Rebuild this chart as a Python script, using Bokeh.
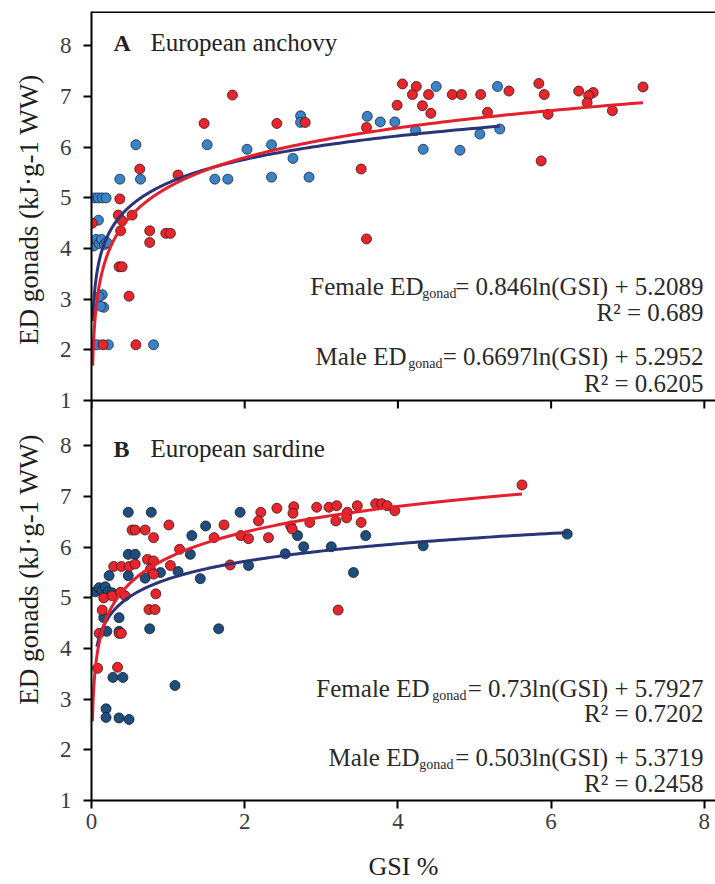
import numpy as np
from bokeh.plotting import figure
from bokeh.layouts import row
from bokeh.models import Label, Span, FixedTicker, Range1d, CustomJSTickFormatter
from bokeh.core.properties import value
from bokeh.embed import file_html
from bokeh.resources import INLINE

# ---------------- data ----------------
x_ticks = [0, 2, 4, 6, 8]
y_ticks = [1, 2, 3, 4, 5, 6, 7, 8]

# Panel A - European anchovy, females (red)
anch_f_gsi = [1.47, 0.63, 1.13, 0.37, 0.01, 0.35, 0.53, 0.40, 0.38, 0.76, 0.97, 1.03, 0.76,
              0.36, 0.40, 0.49, 0.15, 0.58, 1.84, 2.42, 2.79, 3.52, 3.59, 3.59, 3.99, 4.06,
              4.24, 4.19, 4.40, 4.32, 4.43, 4.71, 4.83, 5.08, 5.45, 5.84, 5.91, 6.36, 6.55,
              6.49, 6.47, 7.20, 5.17, 5.96, 6.80, 5.87]
anch_f_ed = [6.47, 5.57, 5.45, 4.98, 4.50, 4.66, 4.66, 4.55, 4.35, 4.35, 4.30, 4.30, 4.12,
             3.64, 3.64, 3.06, 2.10, 2.10, 7.03, 6.47, 6.49, 5.57, 4.19, 6.39, 6.83, 7.25,
             7.20, 7.04, 7.04, 6.82, 6.67, 7.04, 7.04, 7.04, 7.11, 7.26, 7.04, 7.11, 7.08,
             7.02, 6.88, 7.19, 6.69, 6.65, 6.72, 5.73]
# Panel A - males (blue)
anch_m_gsi = [0.58, 1.51, 2.03, 0.37, 0.64, 1.61, 1.78, 0.04, 0.09, 0.14, 0.19, 0.09,
              0.03, 0.06, 0.10, 0.13, 0.17, 0.20, 0.14, 0.10, 0.16, 0.12, 0.03, 0.08, 0.22,
              0.81, 2.73, 2.73, 2.35, 2.63, 2.35, 2.84, 3.60, 3.77, 3.96, 4.50, 4.23, 4.33,
              4.81, 5.07, 5.30, 5.33]
anch_m_ed = [6.05, 6.05, 5.96, 5.37, 5.37, 5.37, 5.37, 5.00, 5.00, 5.00, 5.00, 4.56,
             4.05, 4.18, 4.10, 4.18, 4.08, 4.12, 3.09, 3.05, 2.84, 2.86, 2.10, 2.10, 2.10,
             2.10, 6.62, 6.49, 6.05, 5.78, 5.41, 5.41, 6.61, 6.50, 6.50, 7.20, 6.33, 5.96,
             5.94, 6.26, 7.20, 6.36]

# Panel B - European sardine, females (red)
sard_f_gsi = [0.53, 0.57, 0.70, 0.81, 1.01, 1.73, 1.60, 1.95, 2.05, 0.29, 0.39, 0.49, 0.57,
              0.73, 0.81, 0.77, 0.81, 1.03, 1.15, 1.81, 0.16, 0.27, 0.38, 0.44, 0.84, 0.14,
              0.75, 0.83, 0.10, 0.36, 0.39, 0.08, 0.34, 2.21, 2.18, 2.42, 2.64, 2.63, 2.94,
              3.10, 3.20, 3.47, 3.71, 3.79, 3.86, 3.96, 2.31, 2.60, 2.62, 2.85, 3.19, 3.34,
              3.33, 3.52, 3.22, 5.62]
sard_f_ed = [6.34, 6.34, 6.34, 6.19, 6.44, 6.44, 6.19, 6.23, 6.17, 5.62, 5.62, 5.62, 5.67,
             5.76, 5.73, 5.57, 5.47, 5.64, 5.96, 5.65, 5.00, 5.04, 5.11, 5.04, 5.08, 4.76,
             4.77, 4.77, 4.30, 4.30, 4.30, 3.61, 3.63, 6.69, 6.52, 6.77, 6.80, 6.67, 6.79,
             6.79, 6.82, 6.82, 6.86, 6.86, 6.82, 6.72, 6.19, 6.42, 6.36, 6.49, 6.52, 6.69,
             6.58, 6.49, 4.76, 7.23]
# Panel B - males (dark blue)
sard_m_gsi = [0.48, 0.78, 1.94, 1.31, 1.49, 0.48, 0.57, 0.23, 0.48, 0.70, 0.90, 1.13, 1.29,
              1.42, 2.05, 0.05, 0.10, 0.14, 0.18, 0.22, 0.27, 0.16, 0.36, 0.20, 0.36, 0.76,
              1.66, 0.28, 0.41, 1.09, 0.19, 0.19, 0.36, 0.49, 2.69, 2.77, 3.13, 3.58, 2.53,
              4.33, 3.42, 6.21]
sard_m_ed = [6.69, 6.69, 6.69, 6.23, 6.42, 5.86, 5.86, 5.44, 5.44, 5.39, 5.50, 5.52, 5.86,
             5.38, 5.64, 5.12, 5.20, 5.15, 5.22, 5.12, 5.10, 4.61, 4.61, 4.34, 4.34, 4.39,
             4.39, 3.43, 3.43, 3.27, 2.81, 2.64, 2.63, 2.60, 6.23, 6.01, 6.01, 6.23, 5.87,
             6.03, 5.50, 6.26]

# Logarithmic fits shown on the chart: slope, intercept, GSI range of the curve
anch_f_fit = [0.846, 5.2089, 0.0156, 7.20]
anch_m_fit = [0.6697, 5.2952, 0.017, 5.33]
sard_f_fit = [0.73, 5.7927, 0.012, 5.62]
sard_m_fit = [0.503, 5.3719, 0.07, 6.21]

anch_eq = [("Female ED", "= 0.846ln(GSI) + 5.2089", "R² = 0.689"),
           ("Male ED", "= 0.6697ln(GSI) + 5.2952", "R² = 0.6205")]
sard_eq = [("Female ED", "= 0.73ln(GSI) + 5.7927", "R² = 0.7202"),
           ("Male ED", "= 0.503ln(GSI) + 5.3719", "R² = 0.2458")]

y_title = "ED gonads (kJ·g-1 WW)"
x_title = "GSI %"

# ---------------- layout / style ----------------
FONT = "Liberation Serif"
RED = "#e6262c"
BLUE_A = "#3a83c6"
BLUE_B = "#1f4e7e"
LINE_RED = "#e3202c"
LINE_NAVY = "#2a3478"

W, H = 715, 884
SIDE = 50                                 # strip holding the two vertical axis titles
LEFT, TOP, BOTTOM = 91, 11, 800           # frame edges in page px
UNIT = 50.65                              # px per ED unit
X_END = 8.146
Y_END = 1 + (BOTTOM - TOP) / UNIT         # both panels stacked on one frame
A_OFF = (BOTTOM - 400) / UNIT             # panel A drawn above panel B


def px2data(px, py):
    return (px - LEFT) * X_END / (W - LEFT), 1 + (BOTTOM - py) / UNIT


# side strip with the two y-axis titles
side = figure(width=SIDE, height=H, x_range=Range1d(0, SIDE), y_range=Range1d(H, 0),
              output_backend="svg", toolbar_location=None,
              min_border_left=0, min_border_right=0, min_border_top=0, min_border_bottom=0)
side.axis.visible = False
side.grid.visible = False
side.outline_line_color = None
side.text(x=[28, 28], y=[222, 625], text=[y_title, y_title], angle=np.pi / 2,
          text_font=value(FONT), text_font_size="27px", text_align="center",
          text_baseline="middle", text_color="#1e1e1e")

p = figure(width=W - SIDE, height=H, x_range=Range1d(0, X_END), y_range=Range1d(1, Y_END),
           output_backend="svg", toolbar_location=None,
           min_border_left=LEFT - SIDE, min_border_right=0, min_border_top=TOP,
           min_border_bottom=H - BOTTOM)
p.grid.visible = False
p.outline_line_color = None
p.background_fill_color = "white"

p.xaxis.ticker = FixedTicker(ticks=x_ticks)
p.yaxis.ticker = FixedTicker(ticks=y_ticks + [t + A_OFF for t in y_ticks])
p.yaxis.formatter = CustomJSTickFormatter(
    args=dict(off=A_OFF),
    code="return String(Math.round(tick > 8.5 ? tick - off : tick));")
for ax in p.axis:
    ax.axis_line_width = 2
    ax.axis_line_color = "black"
    ax.major_tick_line_width = 2
    ax.major_tick_line_color = "black"
    ax.major_tick_out = 8
    ax.major_tick_in = 0
    ax.minor_tick_line_color = None
    ax.major_label_text_font = FONT
    ax.major_label_text_font_size = "23px"
    ax.major_label_text_color = "#3c3c3c"
    ax.axis_label_text_font = FONT
    ax.axis_label_text_font_size = "26px"
    ax.axis_label_text_font_style = "normal"
    ax.axis_label_text_color = "#1e1e1e"
p.yaxis.major_label_standoff = 12
p.xaxis.major_label_standoff = 5
p.xaxis.axis_label = x_title
p.xaxis.axis_label_standoff = 20

# frame lines: top border and panel A's own x axis line with downward ticks
p.add_layout(Span(location=Y_END - 0.01, dimension="width", line_color="black", line_width=2))
p.add_layout(Span(location=1 + A_OFF, dimension="width", line_color="black", line_width=2))
p.segment(x0=x_ticks, x1=x_ticks, y0=[1 + A_OFF] * len(x_ticks),
          y1=[1 + A_OFF - 8 / UNIT] * len(x_ticks), line_color="black", line_width=2)


def label(text, px, py, size, align="left", style="normal", color="#2a2a2a"):
    x, y = px2data(px, py)
    p.add_layout(Label(x=x, y=y, text=text, text_font=FONT, text_font_size=size,
                       text_align=align, text_baseline="alphabetic",
                       text_font_style=style, text_color=color))


def fit_curve(fit, color, off):
    slope, icpt, x0, x1 = fit
    xs = np.geomspace(x0, x1, 300)
    ys = slope * np.log(xs) + icpt + off
    p.line(xs, ys, line_color=color, line_width=3)


# ---- panel A (upper) ----
p.scatter(anch_m_gsi, np.array(anch_m_ed) + A_OFF, size=10, fill_color=BLUE_A,
          line_color="#1a2a3a", line_width=0.8)
p.scatter(anch_f_gsi, np.array(anch_f_ed) + A_OFF, size=10, fill_color=RED,
          line_color="#3a1515", line_width=0.8)
fit_curve(anch_m_fit, LINE_NAVY, A_OFF)
fit_curve(anch_f_fit, LINE_RED, A_OFF)

# ---- panel B (lower) ----
p.scatter(sard_m_gsi, sard_m_ed, size=10, fill_color=BLUE_B, line_color="#101a28", line_width=0.8)
p.scatter(sard_f_gsi, sard_f_ed, size=10, fill_color=RED, line_color="#3a1515", line_width=0.8)
fit_curve(sard_m_fit, LINE_NAVY, 0)
fit_curve(sard_f_fit, LINE_RED, 0)

# ---- texts ----
label("A", 113, 42, "24px", style="bold", color="#222")
label("European anchovy", 150, 42, "25px", color="#222")
label("B", 113, 448, "24px", style="bold", color="#222")
label("European sardine", 150, 448, "25px", color="#222")

eq_pos = [(286, 456, 423, 312), (356, 442, 406, 383), (688, 466, 429, 713), (757, 453, 419, 783)]
for (lead, main, r2), (base, sub_r, lead_r, r2_base) in zip(anch_eq + sard_eq, eq_pos):
    label(main, 703, base, "25px", align="right")
    label("gonad", sub_r, base + 7, "14px", align="right")
    label(lead, lead_r, base, "25px", align="right")
    label(r2, 703, r2_base, "25px", align="right")

layout = row(side, p, spacing=0)
open("out.html", "w").write(file_html(layout, INLINE))
